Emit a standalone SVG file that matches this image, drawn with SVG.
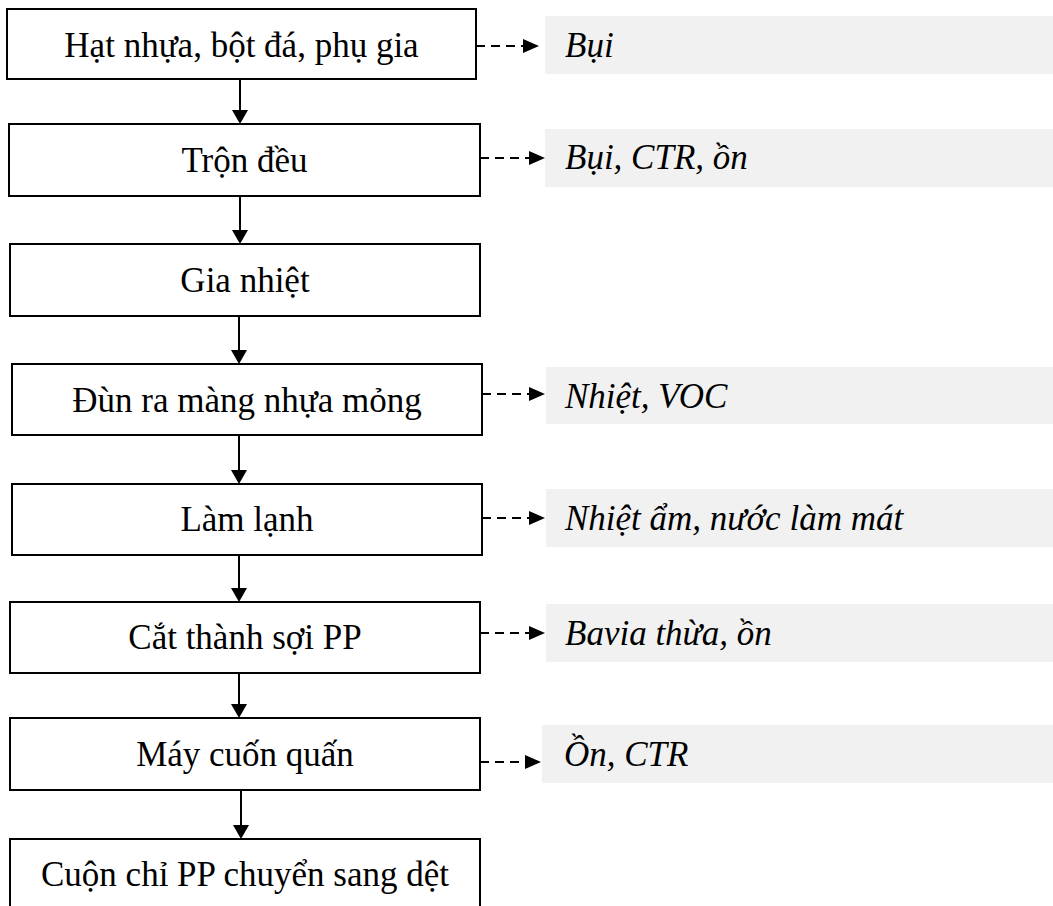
<svg xmlns="http://www.w3.org/2000/svg" width="1053" height="906" viewBox="0 0 1053 906">
<defs>
<style>
.box{fill:#fff;stroke:#000;stroke-width:2}
.lbl{fill:#f1f1f1;stroke:none}
.t{font-family:"Liberation Serif","Times New Roman",serif;font-size:35px;fill:#000;text-anchor:middle}
.it{font-family:"Liberation Serif","Times New Roman",serif;font-size:35px;font-style:italic;fill:#000}
.flow{fill:none;stroke:#000;stroke-width:2;marker-end:url(#ah)}
.emit{fill:none;stroke:#000;stroke-width:2;stroke-dasharray:9 6;marker-end:url(#ah2)}
</style>
<marker id="ah" markerUnits="userSpaceOnUse" viewBox="0 0 14 16" markerWidth="14" markerHeight="16" refX="3" refY="8" orient="auto">
<path d="M0,0 L14,8 L0,16 z" fill="#000"/>
</marker>
<marker id="ah2" markerUnits="userSpaceOnUse" viewBox="0 0 16 14" markerWidth="16" markerHeight="14" refX="3" refY="7" orient="auto">
<path d="M0,0 L16,7 L0,14 z" fill="#000"/>
</marker>
</defs>
<rect width="1053" height="906" fill="#fff"/>

<g id="n1"><rect class="box" x="7" y="9" width="469" height="70"/><text class="t" x="241.5" y="57">Hạt nhựa, bột đá, phụ gia</text></g>
<g id="n2"><rect class="box" x="9" y="124" width="471" height="72"/><text class="t" x="244.5" y="172">Trộn đều</text></g>
<g id="n3"><rect class="box" x="10" y="244" width="470" height="72"/><text class="t" x="245" y="292">Gia nhiệt</text></g>
<g id="n4"><rect class="box" x="12" y="364" width="470" height="71"/><text class="t" x="247" y="412">Đùn ra màng nhựa mỏng</text></g>
<g id="n5"><rect class="box" x="12" y="484" width="470" height="71"/><text class="t" x="247" y="531">Làm lạnh</text></g>
<g id="n6"><rect class="box" x="10" y="602" width="470" height="71"/><text class="t" x="245" y="649">Cắt thành sợi PP</text></g>
<g id="n7"><rect class="box" x="10" y="718" width="470" height="72"/><text class="t" x="245" y="766">Máy cuốn quấn</text></g>
<g id="n8"><rect class="box" x="10" y="839" width="470" height="80"/><text class="t" x="245" y="886">Cuộn chỉ PP chuyển sang dệt</text></g>

<g id="e1"><rect class="lbl" x="545" y="16" width="508" height="58"/><text class="it" x="565" y="57">Bụi</text></g>
<g id="e2"><rect class="lbl" x="545" y="129" width="508" height="58"/><text class="it" x="565" y="169">Bụi, CTR, ồn</text></g>
<g id="e4"><rect class="lbl" x="546" y="367" width="507" height="57"/><text class="it" x="565" y="408">Nhiệt, VOC</text></g>
<g id="e5"><rect class="lbl" x="546" y="489" width="507" height="58"/><text class="it" x="565" y="530">Nhiệt ẩm, nước làm mát</text></g>
<g id="e6"><rect class="lbl" x="546" y="604" width="507" height="58"/><text class="it" x="565" y="645">Bavia thừa, ồn</text></g>
<g id="e7"><rect class="lbl" x="542" y="725" width="511" height="58"/><text class="it" x="564" y="766">Ồn, CTR</text></g>

<g id="connectors">
<path class="flow" d="M240,79 V113"/>
<path class="flow" d="M240,196 V233"/>
<path class="flow" d="M239,316 V353"/>
<path class="flow" d="M239,435 V473"/>
<path class="flow" d="M239,555 V591"/>
<path class="flow" d="M239,673 V707"/>
<path class="flow" d="M241,790 V828"/>
<path class="emit" d="M476,46 H526"/>
<path class="emit" d="M480,158 H532"/>
<path class="emit" d="M482,394 H532"/>
<path class="emit" d="M482,518 H532"/>
<path class="emit" d="M480,633 H532"/>
<path class="emit" d="M480,762 H528"/>
</g>
</svg>
